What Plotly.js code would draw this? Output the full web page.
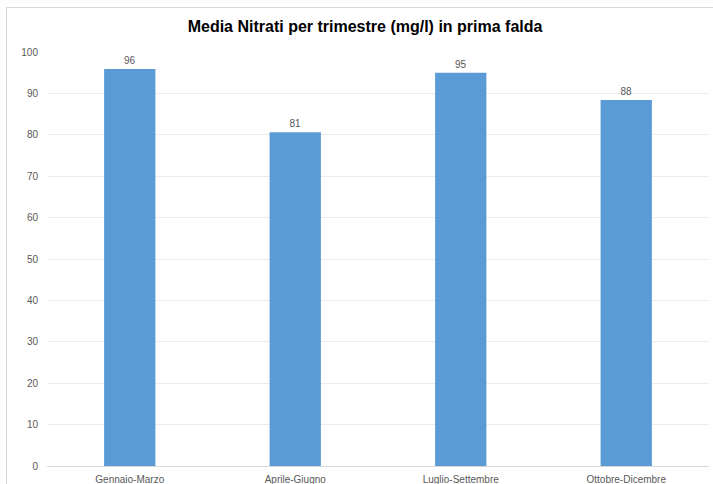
<!DOCTYPE html>
<html>
<head>
<meta charset="utf-8">
<script src="https://cdn.plot.ly/plotly-3.0.1.min.js"></script>
<style>
  html, body { margin: 0; padding: 0; background: #ffffff; }
  #chart { width: 713px; height: 484px; position: relative; }
  #frame { position: absolute; left: 6px; top: 7px; width: 720px; height: 500px;
           border-left: 1px solid #d9d9d9; border-top: 1px solid #d9d9d9; pointer-events: none; }
</style>
</head>
<body>
<div id="chart"></div>
<div id="frame"></div>
<script>
const categories = ["Gennaio-Marzo", "Aprile-Giugno", "Luglio-Settembre", "Ottobre-Dicembre"];
const values = [95.9, 80.6, 95.0, 88.4];
const yTicks = [0, 10, 20, 30, 40, 50, 60, 70, 80, 90, 100];

const tickFont = { family: "Liberation Sans Narrow, Arial Narrow, Arial, sans-serif", size: 10, color: "#595959" };

const trace = {
  type: "bar",
  x: categories,
  y: values,
  marker: { color: "#5b9bd5" },
  texttemplate: "%{y:.0f}",
  textposition: "outside",
  textfont: tickFont,
  cliponaxis: false,
  hoverinfo: "x+y"
};

const layout = {
  width: 713,
  height: 484,
  margin: { l: 47, r: 4, t: 52, b: 18 },
  paper_bgcolor: "#ffffff",
  plot_bgcolor: "#ffffff",
  bargap: 0.69,
  showlegend: false,
  title: {
    text: "<b>Media Nitrati per trimestre (mg/l) in prima falda</b>",
    font: { family: "Liberation Sans, Arial, sans-serif", size: 16, color: "#000000" },
    x: 0.512, xanchor: "center",
    y: 1 - 26 / 484, yref: "container", yanchor: "middle"
  },
  xaxis: {
    type: "category",
    tickfont: tickFont,
    showgrid: false,
    showline: false,
    ticks: "",
    ticklabelstandoff: 6,
    fixedrange: true
  },
  yaxis: {
    range: [0, 100],
    tickvals: yTicks,
    ticktext: yTicks.map(String),
    tickfont: tickFont,
    showgrid: true,
    gridcolor: "#ebebeb",
    gridwidth: 1,
    zeroline: true,
    zerolinecolor: "#d9d9d9",
    zerolinewidth: 1,
    showline: false,
    ticks: "",
    ticklabelstandoff: 8,
    fixedrange: true
  }
};

Plotly.newPlot("chart", [trace], layout, { displayModeBar: false, staticPlot: true });
</script>
</body>
</html>
